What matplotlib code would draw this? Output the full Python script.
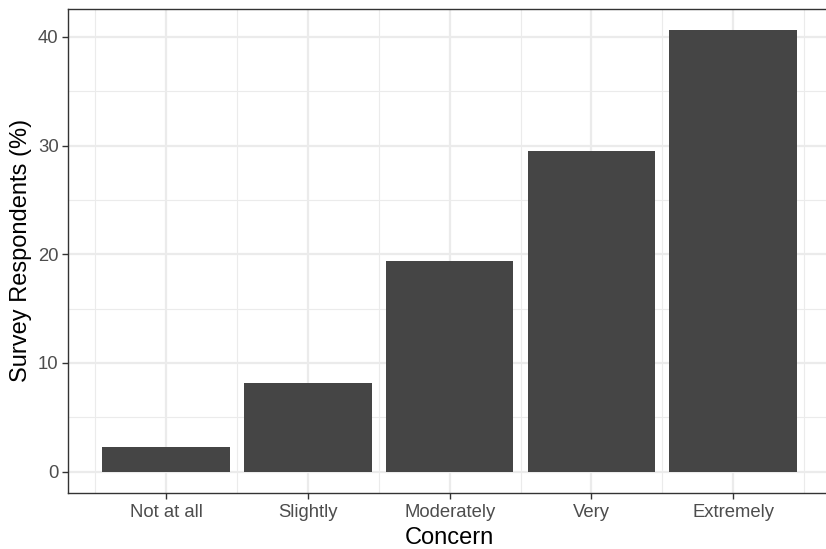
import numpy as np
import matplotlib
matplotlib.use("Agg")
import matplotlib.pyplot as plt
from matplotlib.ticker import MultipleLocator, FixedLocator

# data
categories = ["Not at all", "Slightly", "Moderately", "Very", "Extremely"]
percent = [2.26, 8.13, 19.35, 29.46, 40.6]
y_ticks = [0, 10, 20, 30, 40]

plt.rcParams['font.family'] = ['Liberation Sans', 'DejaVu Sans']

fig = plt.figure(figsize=(8.26, 5.49), dpi=100)
W, H = 826, 549
# panel box in pixels (left, top, right, bottom); right side runs past the image edge
left, top, right, bottom = 68.3, 8.5, 831.0, 492.7
ax = fig.add_axes([left / W, 1 - bottom / H, (right - left) / W, (bottom - top) / H])

x = np.arange(1, len(categories) + 1)
ax.bar(x, percent, width=0.9, color="#454545", zorder=3)

ax.set_xlim(0.311, 5.689)
ax.set_ylim(-1.93, 42.6)

# ggplot theme_bw style grid
ax.set_xticks(x)
ax.set_xticklabels(categories)
ax.xaxis.set_minor_locator(FixedLocator(np.arange(0.5, 6.0, 1.0)))
ax.set_yticks(y_ticks)
ax.yaxis.set_minor_locator(MultipleLocator(5))
ax.grid(which="major", color="#EBEBEB", linewidth=1.6, zorder=0)
ax.grid(which="minor", color="#EBEBEB", linewidth=0.8, zorder=0)
ax.set_axisbelow(True)

for s in ax.spines.values():
    s.set_color("#333333")
    s.set_linewidth(1.0)

ax.tick_params(which="major", length=4.5, width=1.0, color="#333333",
               labelsize=13.3, labelcolor="#4D4D4D", pad=2.5)
ax.tick_params(axis="x", which="major", pad=3.3)
ax.tick_params(which="minor", length=0)

ax.set_xlabel("Concern", fontsize=17, color="black", labelpad=5)
ax.set_ylabel("Survey Respondents (%)", fontsize=17, color="black", labelpad=4)

fig.savefig("out.png", dpi=100)
